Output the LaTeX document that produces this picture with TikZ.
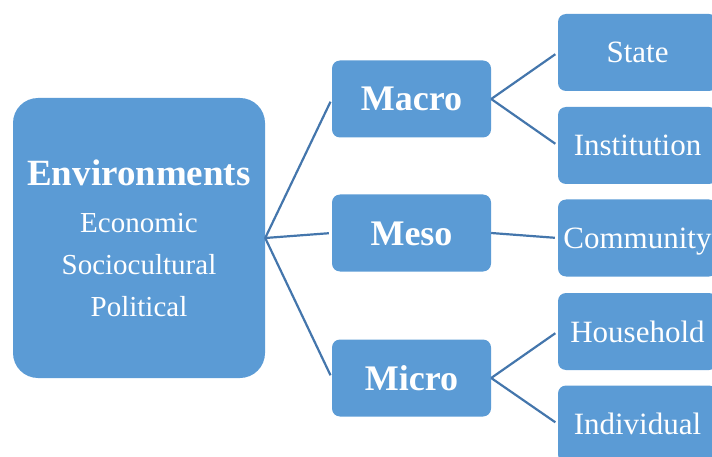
\documentclass[tikz,border=0pt]{standalone}
\usepackage{fontspec}
\setmainfont{Liberation Serif}
\definecolor{boxblue}{RGB}{91,155,213}
\definecolor{linkblue}{RGB}{68,118,172}

\begin{document}
\begin{tikzpicture}[x=1pt,y=-1pt]
\tikzstyle{every node}+=[inner sep=0pt]
\tikzstyle{box}=[fill=boxblue, rounded corners=8pt, minimum width=159pt, minimum height=77pt, text=white, text height=21pt, text depth=0pt, font=\fontsize{31}{36}\selectfont]
\tikzstyle{level}=[box, text height=24pt, font=\fontsize{36}{40}\selectfont\bfseries]
\tikzstyle{link}=[draw=linkblue, line width=2.2pt, shorten >=3pt]
\useasboundingbox (0,0) rectangle (712,457);
\node [fill=boxblue, rounded corners=25pt, minimum width=252pt, minimum height=280pt, text=white, align=center, font=\fontsize{29}{42}\selectfont] (env) at (139,238) {{\fontsize{37}{42}\selectfont\bfseries Environments}\\[5pt]Economic\\Sociocultural\\Political};
\node [level] (macro) at (411.5,99) {Macro};
\node [level] (meso) at (411.5,233) {Meso};
\node [level] (micro) at (411.5,378) {Micro};
\node [box] (state) at (637.5,52.5) {State};
\node [box] (inst) at (637.5,145.5) {Institution};
\node [box] (comm) at (637.5,238) {Community};
\node [box] (house) at (637.5,331.5) {Household};
\node [box] (indiv) at (637.5,424) {Individual};
\draw [link] (env.east) -- (macro.west);
\draw [link] (env.east) -- (meso.west);
\draw [link] (env.east) -- (micro.west);
\draw [link] (macro.east) -- (state.west);
\draw [link] (macro.east) -- (inst.west);
\draw [link] (meso.east) -- (comm.west);
\draw [link] (micro.east) -- (house.west);
\draw [link] (micro.east) -- (indiv.west);
\end{tikzpicture}
\end{document}
